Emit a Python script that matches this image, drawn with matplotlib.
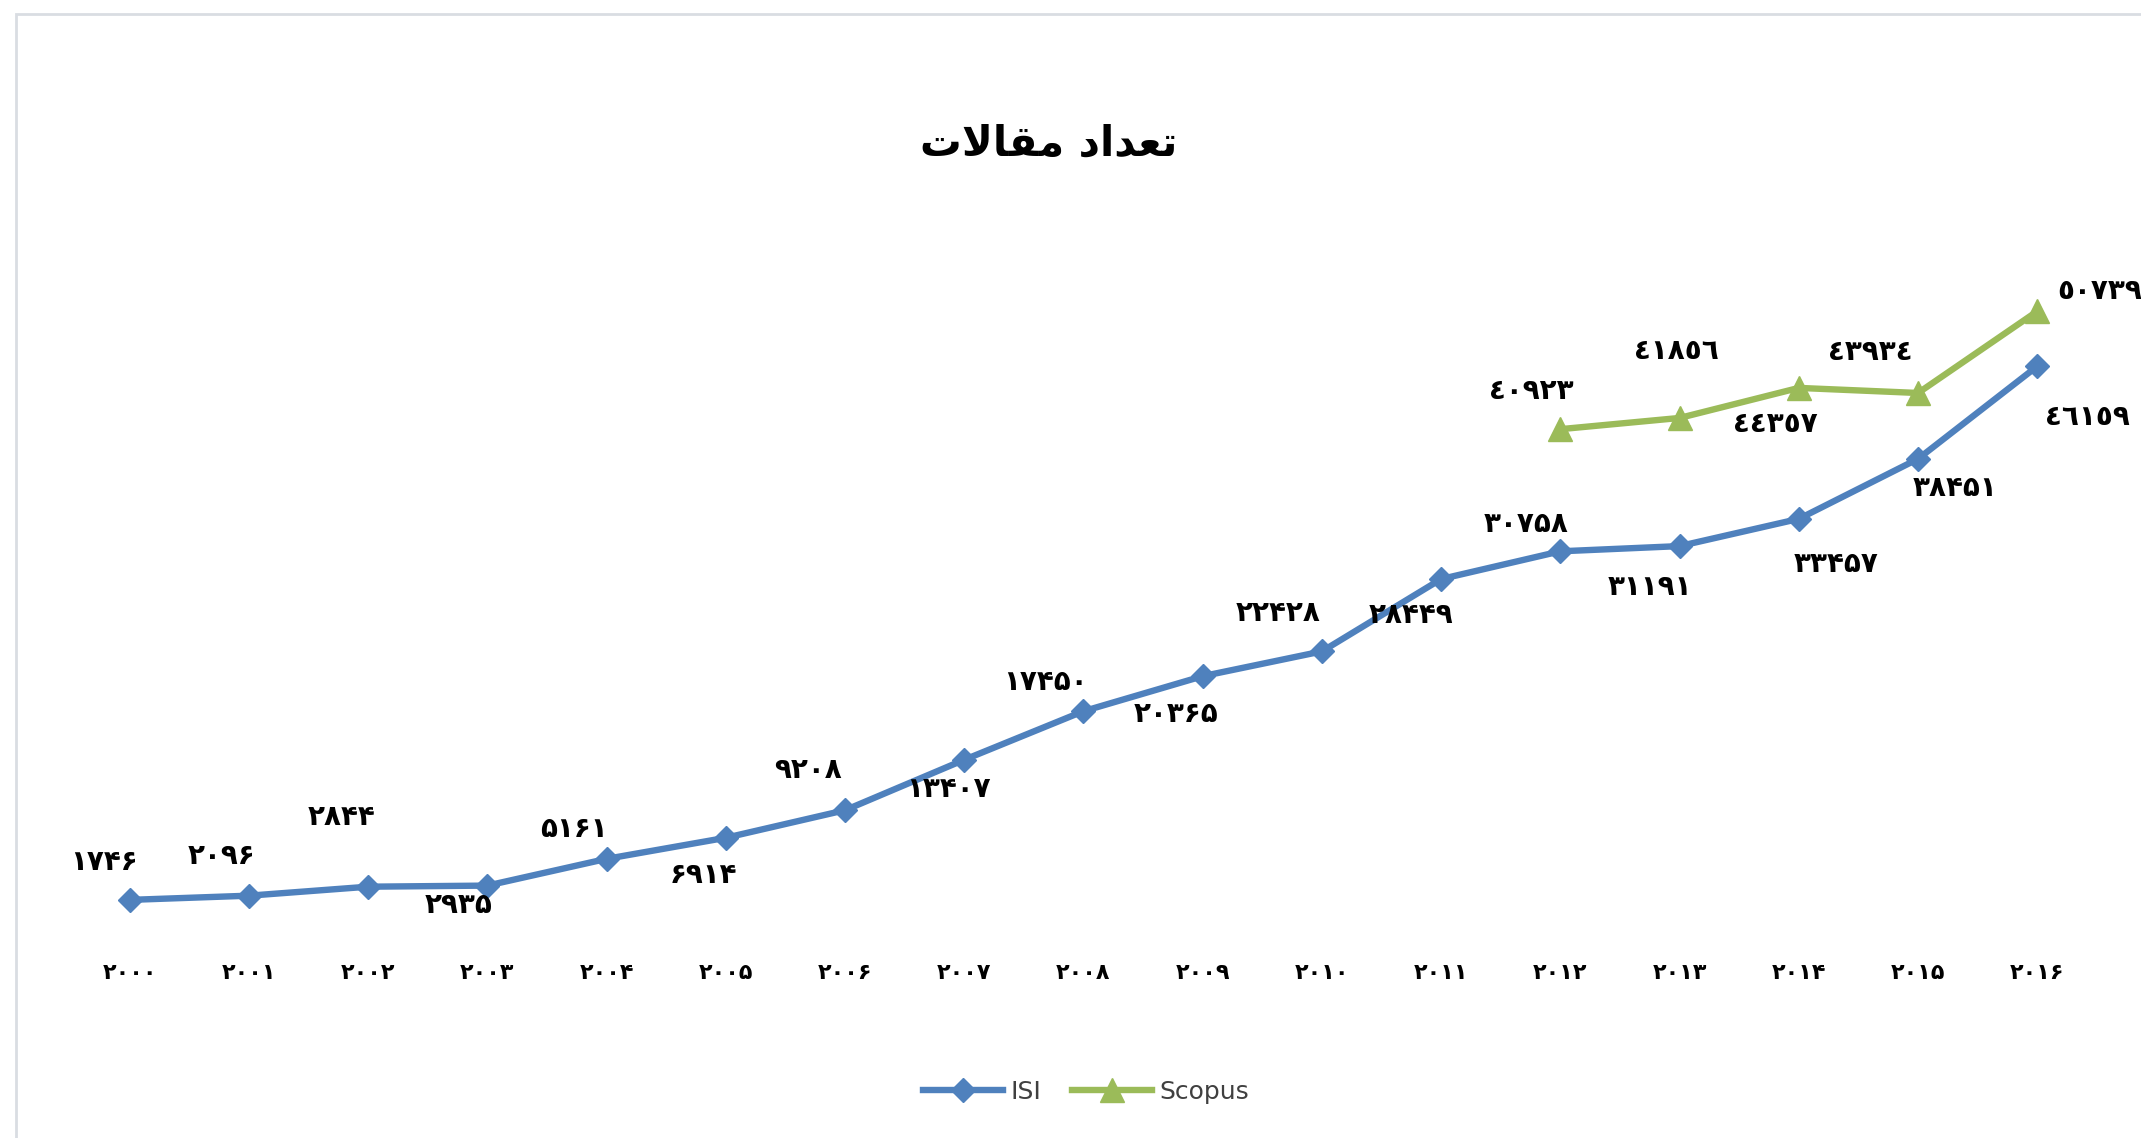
import matplotlib
matplotlib.use("Agg")
from matplotlib import pyplot as plt
from matplotlib.patches import Rectangle

years = list(range(2000, 2017))
isi = [1746, 2096, 2844, 2935, 5161, 6914, 9208, 13407, 17450, 20365,
       22428, 28449, 30758, 31191, 33457, 38451, 46159]
scopus_years = [2012, 2013, 2014, 2015, 2016]
scopus = [40923, 41856, 44357, 43934, 50739]
# the picture writes most ISI labels in Persian digits, the last one and Scopus in Arabic-Indic
isi_digits = ["fa"] * 16 + ["ar"]
scopus_digits = ["ar"] * 5

# label offsets in pixels (dx, dy up)
isi_off = [(-26, 38), (-27, 40), (-27, 70), (-29, -19), (-33, 30), (-22, -37),
           (-37, 40), (-16, -29), (-38, 29), (-27, -38), (-44, 38), (-30, -36),
           (-34, 27), (-30, -41), (37, -45), (37, -29), (50, -51)]
scopus_off = [(-29, 38), (-3, 67), (-23, -36), (-48, 41), (62, 20)]

DIGITS = {"fa": "۰۱۲۳۴۵۶۷۸۹", "ar": "٠١٢٣٤٥٦٧٨٩"}


def to_digits(n, style):
    return "".join(DIGITS[style][int(c)] for c in str(n))


# "تعداد مقالات" shaped by hand (presentation forms, visual order)
title = "".join(chr(c) for c in [0xFE95, 0xFEFB, 0xFE8E, 0xFED8, 0xFEE3]) + " " + \
        "".join(chr(c) for c in [0xFEA9, 0xFE8D, 0xFEAA, 0xFECC, 0xFE97])

blue = "#4F81BD"
green = "#9BBB59"

fig = plt.figure(figsize=(21.41, 11.38), dpi=100)
ax = fig.add_axes([0.0327, 0.1908, 0.9467, 0.6335])

x_isi = [y - 2000 for y in years]
x_sc = [y - 2000 for y in scopus_years]
ax.plot(x_isi, isi, color=blue, lw=4.6, marker="D", ms=12, label="ISI")
ax.plot(x_sc, scopus, color=green, lw=4.6, marker="^", ms=17, label="Scopus")

for xi, v, st, off in zip(x_isi, isi, isi_digits, isi_off):
    ax.annotate(to_digits(v, st), (xi, v), xytext=off, textcoords="offset pixels",
                ha="center", va="center", fontsize=20, fontweight="bold", color="black")
for xi, v, st, off in zip(x_sc, scopus, scopus_digits, scopus_off):
    ax.annotate(to_digits(v, st), (xi, v), xytext=off, textcoords="offset pixels",
                ha="center", va="center", fontsize=20, fontweight="bold", color="black",
                annotation_clip=False)

ax.set_xlim(-0.5, 16.5)
ax.set_ylim(0, 60000)
ax.set_xticks(x_isi)
ax.set_xticklabels([to_digits(y, "fa") for y in years], fontsize=16, fontweight="bold")
ax.tick_params(axis="x", length=0, pad=30)
ax.set_yticks([])
for s in ax.spines.values():
    s.set_visible(False)

fig.text(1049 / 2141, 1 - 143 / 1138, title, ha="center", va="center",
         fontsize=30, fontweight="bold", family="DejaVu Sans")

fig.legend(loc="center", bbox_to_anchor=(1086 / 2141, 1 - 1092 / 1138), ncol=2,
           frameon=False, fontsize=18, handlelength=3.2, columnspacing=1.2,
           handletextpad=0.3, labelcolor="#404040")

fig.patches.append(Rectangle((16 / 2141, -0.05), 1.2, 1 - 14 / 1138 + 0.05,
                             transform=fig.transFigure, fill=False,
                             edgecolor="#d9dde2", lw=2))

fig.savefig("out.png", dpi=100)
